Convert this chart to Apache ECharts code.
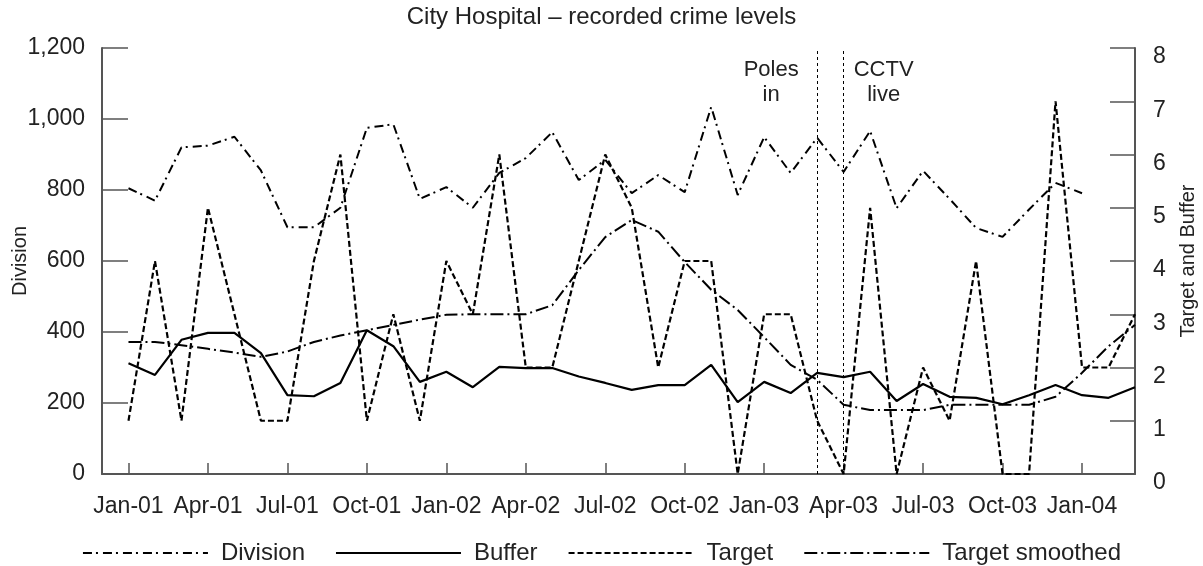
<!DOCTYPE html>
<html>
<head>
<meta charset="utf-8">
<title>City Hospital – recorded crime levels</title>
<script src="https://cdn.jsdelivr.net/npm/echarts@6.0.0/dist/echarts.min.js"></script>
<style>
	html, body { margin: 0; padding: 0; background: #fff; }
	#chart { width: 1203px; height: 566px; }
</style>
</head>
<body>
<div id="chart"></div>
<script>
// months, Dec-00 is an empty slot so the data starts one step in from the left axis
const months = [
	'Dec-00',
	'Jan-01', 'Feb-01', 'Mar-01', 'Apr-01', 'May-01', 'Jun-01', 'Jul-01', 'Aug-01', 'Sep-01', 'Oct-01', 'Nov-01', 'Dec-01',
	'Jan-02', 'Feb-02', 'Mar-02', 'Apr-02', 'May-02', 'Jun-02', 'Jul-02', 'Aug-02', 'Sep-02', 'Oct-02', 'Nov-02', 'Dec-02',
	'Jan-03', 'Feb-03', 'Mar-03', 'Apr-03', 'May-03', 'Jun-03', 'Jul-03', 'Aug-03', 'Sep-03', 'Oct-03', 'Nov-03', 'Dec-03',
	'Jan-04', 'Feb-04', 'Mar-04',
]
// left axis
const division = [
	null,
	805, 770, 920, 925, 950, 855, 695, 695, 750, 975, 985, 775,
	808, 750, 848, 890, 963, 828, 885, 791, 842, 794, 1034, 786,
	949, 848, 947, 851, 966, 749, 854, 775, 693, 668, 745, 820,
	791, null, null,
]
// right axis
const buffer = [
	null,
	2.08, 1.86, 2.52, 2.65, 2.65, 2.27, 1.48, 1.46, 1.71, 2.7, 2.4, 1.73,
	1.92, 1.63, 2.01, 1.99, 1.99, 1.83, 1.71, 1.58, 1.67, 1.67, 2.05, 1.35,
	1.73, 1.52, 1.9, 1.82, 1.92, 1.37, 1.69, 1.45, 1.43, 1.31, 1.48, 1.67,
	1.48, 1.43, 1.63,
]
const target = [
	null,
	1, 4, 1, 5, 3, 1, 1, 4, 6, 1, 3, 1,
	4, 3, 6, 2, 2, 4, 6, 5, 2, 4, 4, 0,
	3, 3, 1, 0, 5, 0, 2, 1, 4, 0, 0, 7,
	2, 2, 3,
]
const targetSmoothed = [
	null,
	2.48, 2.48, 2.42, 2.35, 2.28, 2.2, 2.3, 2.48, 2.6, 2.7, 2.8, 2.9,
	2.99, 3.0, 3.0, 3.0, 3.17, 3.83, 4.45, 4.77, 4.55, 3.98, 3.46, 3.08,
	2.57, 2.05, 1.77, 1.3, 1.2, 1.2, 1.2, 1.3, 1.3, 1.3, 1.3, 1.45,
	1.9, 2.4, 2.8,
]
const events = [
	{ month: 'Mar-03', text: 'Poles\nin', dx: -46 },
	{ month: 'Apr-03', text: 'CCTV\nlive', dx: 40 },
]
const leftTicks = [0, 1200, 200]
const rightTicks = [0, 8, 1]

const font = 'Arial, "Liberation Sans", sans-serif'
const ink = '#000'
const textInk = '#222'
const axisGrey = '#555'
const quarterly = (index, value) => /^(Jan|Apr|Jul|Oct)/.test(value)

const myChart = echarts.init(document.getElementById('chart'))

const lineSeries = (name, data, yAxisIndex, type, width) => {
	return {
		name: name,
		type: 'line',
		data: data,
		yAxisIndex: yAxisIndex,
		symbol: 'none',
		symbolSize: 0,
		connectNulls: false,
		silent: true,
		animation: false,
		lineStyle: {
			color: ink,
			width: width,
			type: type,
		},
		itemStyle: { color: ink },
		emphasis: { disabled: true },
	}
}

const series = [
	lineSeries('Division', division, 0, [9, 4, 2, 5], 2),
	lineSeries('Buffer', buffer, 1, 'solid', 2.2),
	lineSeries('Target', target, 1, [6, 3], 2.2),
	lineSeries('Target smoothed', targetSmoothed, 1, [13, 4, 2, 4], 2),
]
// the two event lines
series[1].markLine = {
	silent: true,
	symbol: ['none', 'none'],
	label: { show: false },
	lineStyle: { color: ink, width: 1, type: [3, 3] },
	data: events.map((e) => ({ xAxis: e.month })),
}
series[2].markPoint = {
	silent: true,
	symbol: 'circle',
	symbolSize: 0,
	label: {
		show: true,
		position: 'inside',
		formatter: (p) => p.name,
		fontFamily: font,
		fontSize: 22,
		lineHeight: 25,
		color: textInk,
	},
	data: events.map((e) => ({
		name: e.text,
		coord: [e.month, 7.35],
		label: { offset: [e.dx, 0] },
	})),
}

const options = {
	animation: false,
	textStyle: { fontFamily: font },
	title: {
		text: 'City Hospital – recorded crime levels',
		left: 'center',
		top: 0,
		textStyle: {
			fontFamily: font,
			fontSize: 24,
			fontWeight: 'normal',
			color: textInk,
		},
	},
	grid: {
		left: 102,
		right: 68,
		top: 48,
		bottom: 92,
		outerBoundsMode: 'none',
		containLabel: false,
	},
	legend: {
		top: 536,
		left: 'center',
		itemWidth: 125,
		itemHeight: 12,
		itemGap: 30,
		selectedMode: false,
		itemStyle: { opacity: 0 },
		textStyle: {
			fontFamily: font,
			fontSize: 24,
			color: textInk,
			padding: [0, 0, 0, 8],
		},
		data: ['Division', 'Buffer', 'Target', 'Target smoothed'],
	},
	xAxis: {
		type: 'category',
		data: months,
		boundaryGap: false,
		axisLine: { lineStyle: { color: axisGrey, width: 2 } },
		axisTick: {
			inside: true,
			length: 11,
			interval: quarterly,
			lineStyle: { color: axisGrey, width: 1.5 },
		},
		axisLabel: {
			interval: quarterly,
			margin: 21,
			fontFamily: font,
			fontSize: 23,
			color: textInk,
		},
		splitLine: { show: false },
	},
	yAxis: [
		{
			type: 'value',
			min: leftTicks[0],
			max: leftTicks[1],
			interval: leftTicks[2],
			name: 'Division',
			nameLocation: 'middle',
			nameRotate: 90,
			nameGap: 72,
			nameMoveOverlap: false,
			nameTextStyle: { fontFamily: font, fontSize: 20, color: textInk },
			axisLine: { show: true, lineStyle: { color: axisGrey, width: 2 } },
			axisTick: {
				show: true,
				inside: true,
				length: 26,
				lineStyle: { color: axisGrey, width: 1.5 },
			},
			axisLabel: {
				margin: 17,
				fontFamily: font,
				fontSize: 23,
				color: textInk,
				formatter: (v) => v.toLocaleString('en-US'),
			},
			splitLine: { show: false },
		},
		{
			type: 'value',
			position: 'right',
			min: rightTicks[0],
			max: rightTicks[1],
			interval: rightTicks[2],
			name: 'Target and Buffer',
			nameLocation: 'middle',
			nameRotate: 90,
			nameGap: 43,
			nameTextStyle: { fontFamily: font, fontSize: 20, color: textInk },
			axisLine: { show: true, lineStyle: { color: axisGrey, width: 2 } },
			axisTick: {
				show: true,
				inside: true,
				length: 25,
				lineStyle: { color: axisGrey, width: 1.5 },
			},
			axisLabel: {
				margin: 18,
				verticalAlign: 'top',
				lineHeight: 18,
				fontFamily: font,
				fontSize: 23,
				color: textInk,
			},
			splitLine: { show: false },
		},
	],
	series: series,
}
myChart.setOption(options)
</script>
</body>
</html>
